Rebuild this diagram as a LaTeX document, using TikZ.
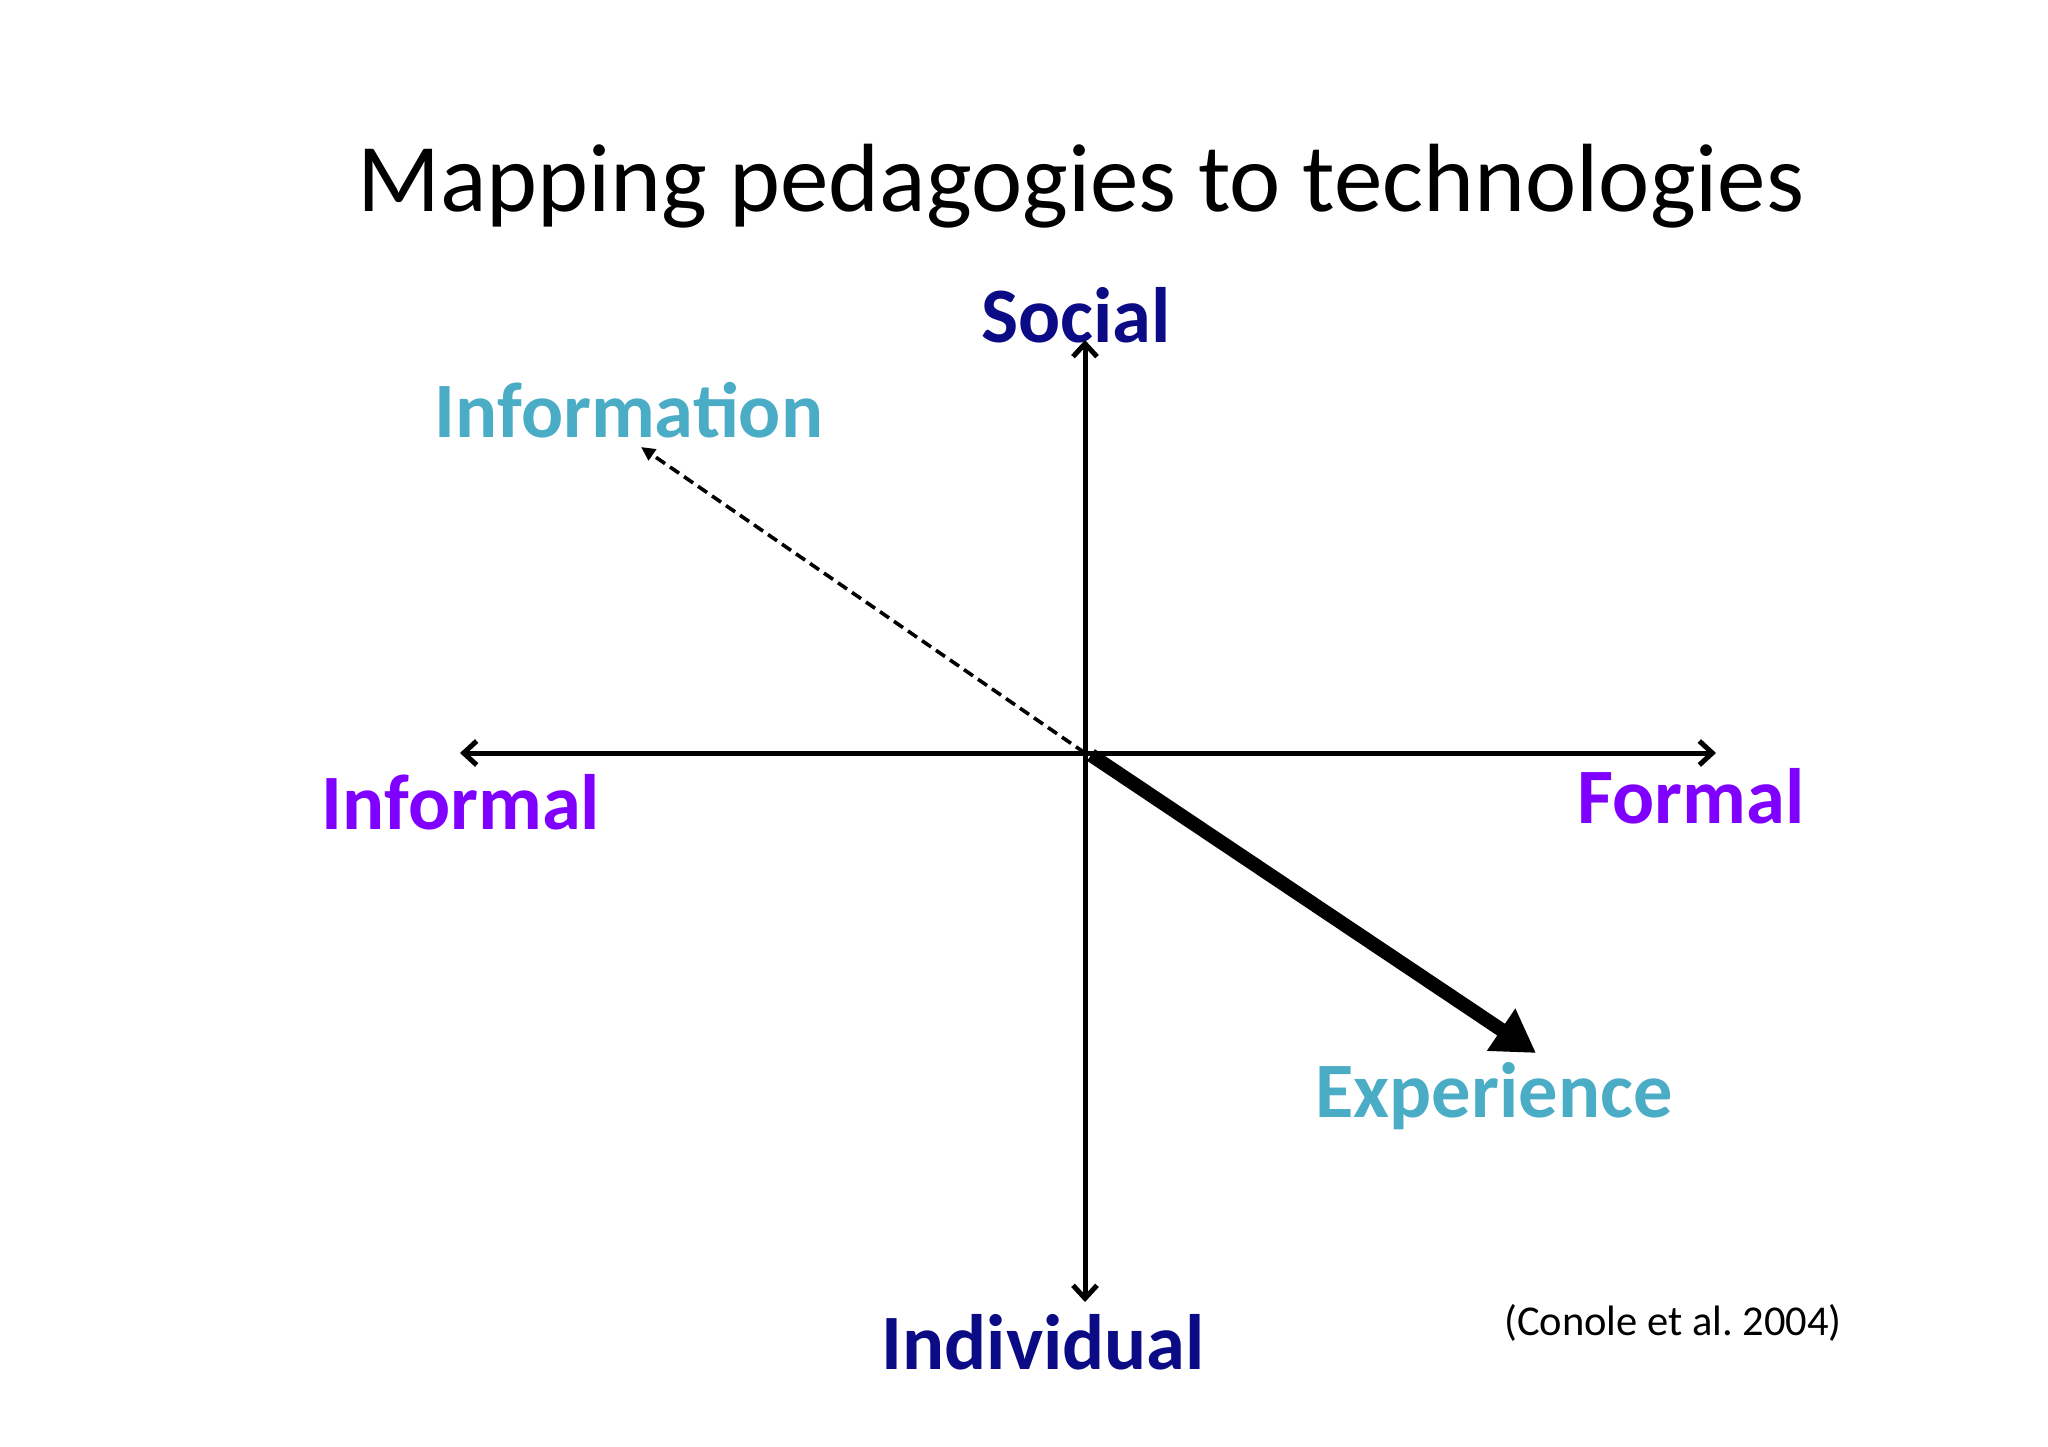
\documentclass[tikz,border=0pt]{standalone}
\usepackage{fontspec}
\setmainfont{Carlito}
\usetikzlibrary{arrows.meta}
\definecolor{navyc}{HTML}{0B0B85}
\definecolor{purplec}{HTML}{8000FF}
\definecolor{tealc}{HTML}{4BACC6}
\tikzset{
  lbl/.style={inner sep=0pt, anchor=base, font=\bfseries\fontsize{78.5}{90}\selectfont},
  axis/.style={line width=5pt, {Straight Barb[length=13pt,width=24pt,line width=5pt]}-{Straight Barb[length=13pt,width=24pt,line width=5pt]}},
  oneaxis/.style={line width=5pt, -{Straight Barb[length=13pt,width=24pt,line width=5pt]}},
}
\begin{document}
\frenchspacing
\begin{tikzpicture}[x=1pt,y=-1pt]
\useasboundingbox (0,0) rectangle (2048,1447);
% title
\node[inner sep=0pt, anchor=base, font=\fontsize{97}{110}\selectfont] (title) at (1081,212) {Mapping pedagogies to technologies};
% labels
\node[lbl, text=navyc] (social) at (1076,342) {Social};
\node[lbl, text=navyc] (indiv) at (1043,1369) {Individual};
\node[lbl, text=purplec] (informal) at (461,829) {Informal};
\node[lbl, text=purplec] (formal) at (1691,823) {Formal};
\node[lbl, text=tealc] (info) at (629,437) {Information};
\node[lbl, text=tealc] (exper) at (1494,1117) {Experience};
\node[inner sep=0pt, anchor=base, font=\fontsize{42.5}{48}\selectfont] (cite) at (1673,1335) {(Conole et al. 2004)};
% axes
\coordinate (O) at (1085,753);
\coordinate (top) at (1085,340);
\coordinate (bot) at (1085,1302);
\coordinate (left) at (460,753);
\coordinate (right) at (1716,753);
\coordinate (infotip) at (641,447);
\coordinate (extip) at (1536,1053);
\coordinate (thickstart) at (1091,755);
\draw[oneaxis] (O) -- (top);
\draw[oneaxis] (O) -- (bot);
\draw[axis] (left) -- (right);
\draw[line width=3.6pt, dash pattern=on 11pt off 6pt, -{Triangle[length=14pt,width=13pt]}] (O) -- (infotip);
\draw[line width=14pt, -{Triangle[length=42pt,width=48pt]}] (thickstart) -- (extip);
\end{tikzpicture}
\end{document}
